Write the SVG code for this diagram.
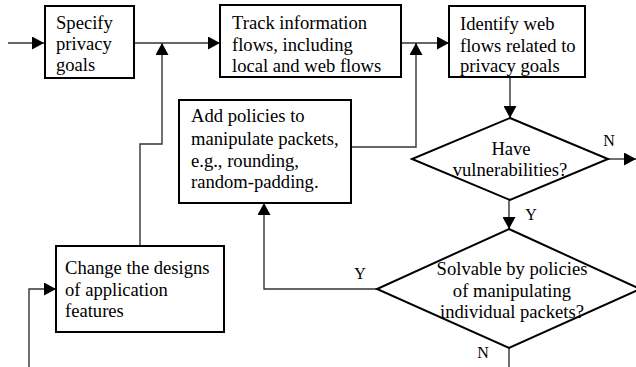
<svg xmlns="http://www.w3.org/2000/svg" width="636" height="367" viewBox="0 0 636 367">
<defs>
<style>
.box{fill:#fff;stroke:#000;stroke-width:2}
.dia{fill:#fff;stroke:#000;stroke-width:2}
text{font-family:'Liberation Serif',serif}
.t{font-size:18.6px;fill:#000}
.c{text-anchor:middle}
.lbl{font-size:16px;fill:#000;text-anchor:middle}
.ln{fill:none;stroke:#333;stroke-width:1.4}
</style>
<marker id="ah" markerUnits="userSpaceOnUse" markerWidth="13" markerHeight="13" refX="12" refY="6.5" orient="auto">
<path d="M0,0 L12,6.5 L0,13 z" fill="#000"/>
</marker>
</defs>
<g id="connectors" font-family="Liberation Serif, serif">
<path class="ln" d="M8,43 H44" marker-end="url(#ah)"/>
<path class="ln" d="M134,43 H220" marker-end="url(#ah)"/>
<path class="ln" d="M140,246 V144 H162 V43" marker-end="url(#ah)"/>
<path class="ln" d="M401,43 H449" marker-end="url(#ah)"/>
<path class="ln" d="M352,147 H416 V43" marker-end="url(#ah)"/>
<path class="ln" d="M510,77 V118" marker-end="url(#ah)"/>
<path class="ln" d="M608,159 H636" marker-end="url(#ah)"/>
<path class="ln" d="M509,200 V229" marker-end="url(#ah)"/>
<path class="ln" d="M377,289 H264 V203" marker-end="url(#ah)"/>
<path class="ln" d="M29,367 V289 H56" marker-end="url(#ah)"/>
<path class="ln" d="M509,348 V367"/>
<text class="lbl" x="609" y="146">N</text>
<text class="lbl" x="531" y="220">Y</text>
<text class="lbl" x="360" y="279">Y</text>
<text class="lbl" x="483" y="358">N</text>
</g>
<g id="specify" font-family="Liberation Serif, serif">
<rect class="box" x="45" y="6" width="89" height="72"/>
<text class="t" x="56" y="29">Specify</text>
<text class="t" x="56" y="50">privacy</text>
<text class="t" x="56" y="71">goals</text>
</g>
<g id="track" font-family="Liberation Serif, serif">
<rect class="box" x="220" y="5" width="181" height="72"/>
<text class="t" x="232" y="29">Track information</text>
<text class="t" x="232" y="51">flows, including</text>
<text class="t" x="232" y="72">local and web flows</text>
</g>
<g id="identify" font-family="Liberation Serif, serif">
<rect class="box" x="449" y="6" width="136" height="71"/>
<text class="t" x="460" y="30">Identify web</text>
<text class="t" x="460" y="52">flows related to</text>
<text class="t" x="460" y="72">privacy goals</text>
</g>
<g id="addpolicies" font-family="Liberation Serif, serif">
<rect class="box" x="179" y="100" width="172" height="103"/>
<text class="t" x="191" y="122">Add policies to</text>
<text class="t" x="191" y="145">manipulate packets,</text>
<text class="t" x="191" y="167">e.g., rounding,</text>
<text class="t" x="191" y="188">random-padding.</text>
</g>
<g id="vuln" font-family="Liberation Serif, serif">
<polygon class="dia" points="510,118 608,159 510,200 412,159"/>
<text class="t c" x="511" y="155">Have</text>
<text class="t c" x="510" y="176">vulnerabilities?</text>
</g>
<g id="solvable" font-family="Liberation Serif, serif">
<polygon class="dia" points="509,229 640,289 509,348 377,289"/>
<text class="t c" x="512" y="275">Solvable by policies</text>
<text class="t c" x="512" y="297">of manipulating</text>
<text class="t c" x="512" y="318">individual packets?</text>
</g>
<g id="change" font-family="Liberation Serif, serif">
<rect class="box" x="56" y="246" width="168" height="86"/>
<text class="t" x="65" y="274">Change the designs</text>
<text class="t" x="65" y="296">of application</text>
<text class="t" x="65" y="317">features</text>
</g>
</svg>
